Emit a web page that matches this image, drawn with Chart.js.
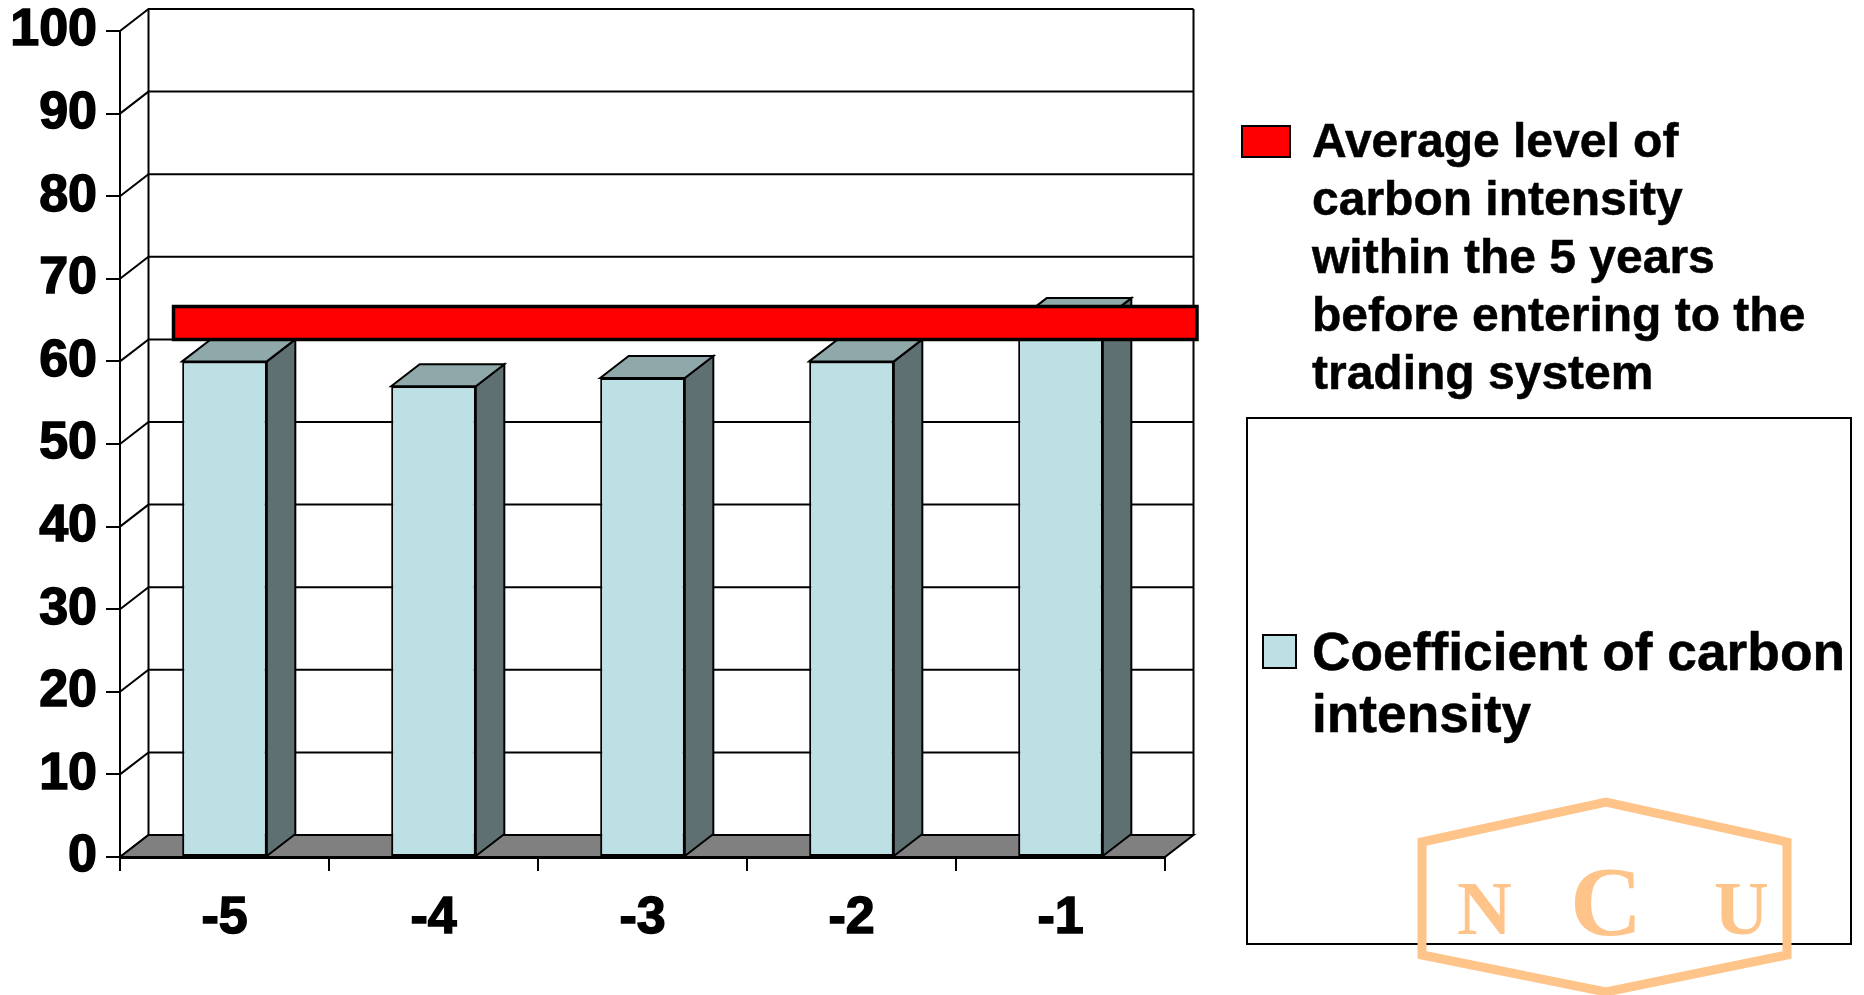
<!DOCTYPE html>
<html>
<head>
<meta charset="utf-8">
<title>Coefficient of carbon intensity</title>
<script src="https://cdn.jsdelivr.net/npm/chart.js@4"></script>
<style>
    html, body { margin: 0; padding: 0; background: #fff; overflow: hidden; }
    #wrap { position: relative; width: 1864px; height: 995px; }
    canvas { position: absolute; left: 0; top: 0; }
    .legend-text { position: absolute; font-family: "Liberation Sans", Arial, sans-serif; font-weight: bold; color: #000; white-space: pre; -webkit-text-stroke: 0.5px #000; }
    .swatch { position: absolute; box-sizing: border-box; border: 2px solid #000; }
    #legend-box { position: absolute; box-sizing: border-box; left: 1246px; top: 417px; width: 606px; height: 528px; border: 2px solid #000; }
    #logo { position: absolute; left: 0; top: 0; }
</style>
</head>
<body>
<div id="wrap">
    <canvas id="chart" width="1864" height="995"></canvas>
    <div id="legend-box"></div>
    <div class="swatch" style="left:1241px;top:125px;width:50px;height:33px;background:#ff0000"></div>
    <div class="legend-text" id="avg-label" style="left:1312px;top:112px;font-size:48px;line-height:57.9px"></div>
    <div class="swatch" style="left:1262px;top:634px;width:35px;height:35px;background:#bce0e3"></div>
    <div class="legend-text" id="coef-label" style="left:1312px;top:621px;font-size:53.3px;line-height:62px"></div>
    <svg id="logo" width="1864" height="995">
        <polygon points="1422,842 1606,802 1787,842 1787,955 1606,992 1422,955" fill="none" stroke="#fec48a" stroke-width="9"></polygon>
        <g fill="#fec48a" font-family="Liberation Serif, serif" font-weight="bold">
            <text x="1457" y="934" font-size="76">N</text>
            <text x="1570" y="935" font-size="100">C</text>
            <text x="1714" y="934" font-size="76">U</text>
        </g>
    </svg>
</div>
<script>
    const categories = ['-5', '-4', '-3', '-2', '-1'];
    const coefValues = [60, 57, 58, 60, 65];
    const avgValues = [60, 60, 60, 60, 60];
    const yTicks = [0, 10, 20, 30, 40, 50, 60, 70, 80, 90, 100];
    const coefName = 'Coefficient of carbon\nintensity';
    const avgName = 'Average level of\ncarbon intensity\nwithin the 5 years\nbefore entering to the\ntrading system';

    const DEPTH_X = 28.5;
    const DEPTH_Y = 22;

    document.getElementById('avg-label').textContent = avgName;
    document.getElementById('coef-label').textContent = coefName;

    function poly(ctx, pts, fill) {
        ctx.beginPath();
        pts.forEach((p, i) => i ? ctx.lineTo(p[0], p[1]) : ctx.moveTo(p[0], p[1]));
        ctx.closePath();
        if (fill) { ctx.fillStyle = fill; ctx.fill(); }
        ctx.stroke();
    }

    // back wall, floor and the depth faces of the bars sit behind the native bars
    const depthPlugin = {
        id: 'depth',
        beforeDatasetsDraw(chart) {
            const { ctx, chartArea: a, scales: { y } } = chart;
            ctx.save();
            ctx.strokeStyle = '#000';
            ctx.lineWidth = 2;

            y.ticks.forEach(t => {
                const py = y.getPixelForValue(t.value);
                ctx.beginPath();
                ctx.moveTo(a.left, py);
                ctx.lineTo(a.left + DEPTH_X, py - DEPTH_Y);
                ctx.lineTo(a.right + DEPTH_X, py - DEPTH_Y);
                ctx.stroke();
            });
            ctx.beginPath();
            ctx.moveTo(a.left + DEPTH_X, a.top - DEPTH_Y);
            ctx.lineTo(a.left + DEPTH_X, a.bottom - DEPTH_Y);
            ctx.moveTo(a.right + DEPTH_X, a.top - DEPTH_Y);
            ctx.lineTo(a.right + DEPTH_X, a.bottom - DEPTH_Y);
            ctx.stroke();

            poly(ctx, [
                [a.left, a.bottom],
                [a.left + DEPTH_X, a.bottom - DEPTH_Y],
                [a.right + DEPTH_X, a.bottom - DEPTH_Y],
                [a.right, a.bottom]
            ], '#808080');

            chart.getDatasetMeta(0).data.forEach(bar => {
                const l = bar.x - bar.width / 2;
                const r = bar.x + bar.width / 2;
                poly(ctx, [[r, bar.y], [r + DEPTH_X, bar.y - DEPTH_Y], [r + DEPTH_X, bar.base - DEPTH_Y], [r, bar.base]], '#5f7073');
                poly(ctx, [[l, bar.y], [l + DEPTH_X, bar.y - DEPTH_Y], [r + DEPTH_X, bar.y - DEPTH_Y], [r, bar.y]], '#8fa8aa');
            });
            ctx.restore();
        },
        // the average line is a flat ribbon standing on the back wall level
        afterDatasetsDraw(chart) {
            const { ctx } = chart;
            const pts = chart.getDatasetMeta(1).data;
            const left = pts[0].x - 51;
            const right = pts[pts.length - 1].x + 136.5;
            const bottom = pts[0].y - DEPTH_Y;
            ctx.save();
            ctx.strokeStyle = '#000';
            ctx.lineWidth = 3.5;
            poly(ctx, [[left, bottom - 33], [right, bottom - 33], [right, bottom], [left, bottom]], '#ff0000');
            ctx.restore();
        }
    };

    new Chart(document.getElementById('chart'), {
        data: {
            labels: categories,
            datasets: [
                {
                    type: 'bar',
                    label: coefName,
                    data: coefValues,
                    backgroundColor: '#bce0e3',
                    borderColor: '#000',
                    borderWidth: 2,
                    borderSkipped: false,
                    barPercentage: 0.405,
                    categoryPercentage: 1
                },
                {
                    type: 'line',
                    label: avgName,
                    data: avgValues,
                    showLine: false,
                    pointRadius: 0
                }
            ]
        },
        options: {
            responsive: false,
            animation: false,
            layout: { padding: { top: 31, right: 699 } },
            plugins: { legend: { display: false }, tooltip: { enabled: false } },
            scales: {
                x: {
                    offset: true,
                    afterFit(s) { s.height = 138; },
                    grid: { offset: true, drawOnChartArea: false, color: '#000', lineWidth: 2, tickLength: 14 },
                    border: { color: '#000', width: 3 },
                    ticks: { padding: 16, color: '#000', textStrokeColor: '#000', textStrokeWidth: 1.5, autoSkip: false, maxRotation: 0, font: { family: 'Liberation Sans', weight: 'bold', size: 52 } }
                },
                y: {
                    min: 0,
                    max: 100,
                    afterFit(s) { s.width = 120; s.paddingTop = 0; s.paddingBottom = 0; },
                    afterBuildTicks(s) { s.ticks = yTicks.map(v => ({ value: v })); },
                    grid: { drawOnChartArea: false, color: '#000', lineWidth: 2, tickLength: 14 },
                    border: { color: '#000', width: 2 },
                    ticks: { padding: 9, color: '#000', textStrokeColor: '#000', textStrokeWidth: 1.5, font: { family: 'Liberation Sans', weight: 'bold', size: 52 } }
                }
            }
        },
        plugins: [depthPlugin]
    });
</script>
</body>
</html>
